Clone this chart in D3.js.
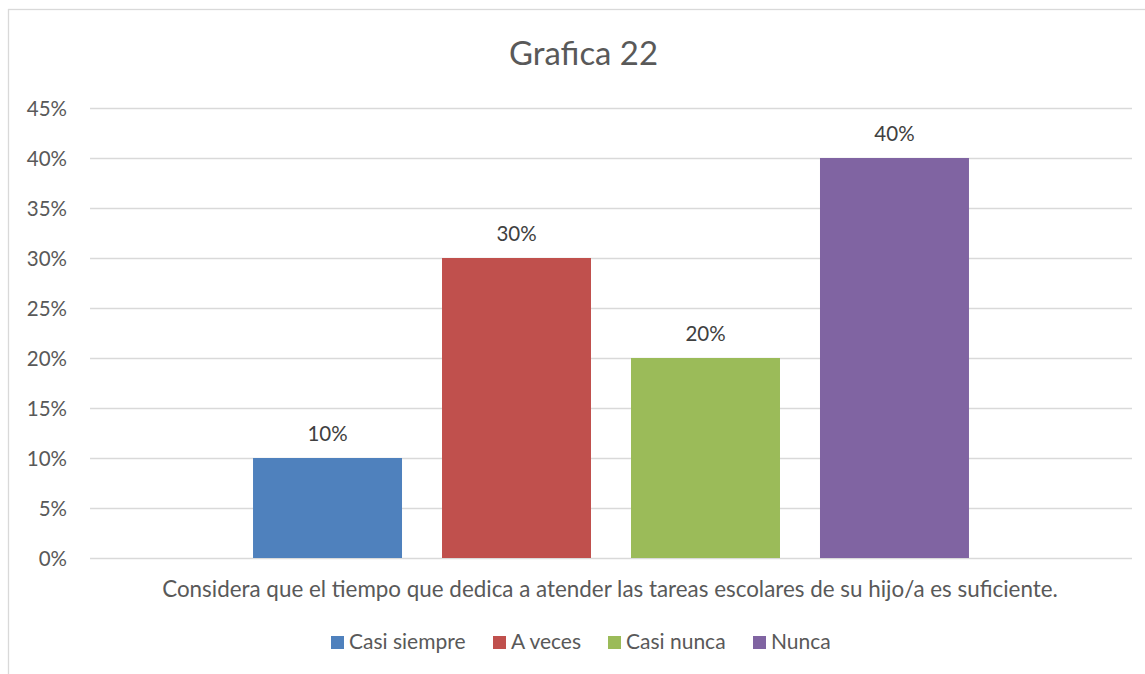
<!DOCTYPE html>
<html><head><meta charset="utf-8">
<script src="https://cdn.jsdelivr.net/npm/d3@7"></script>
<style>html,body{margin:0;padding:0;background:#fff;}svg{display:block;font-family:Lato,"Open Sans",sans-serif;}</style>
</head><body>
<svg id="c" width="1145" height="674"></svg>
<script>
const title = "Grafica 22";
const categories = ["Considera que el tiempo que dedica a atender las tareas escolares de su hijo/a es suficiente."];
const series = ["Casi siempre", "A veces", "Casi nunca", "Nunca"];
const values = [0.10, 0.30, 0.20, 0.40];
const colors = ["#4F81BD", "#C0504D", "#9BBB59", "#8064A2"];
const yTicks = [0, 0.05, 0.10, 0.15, 0.20, 0.25, 0.30, 0.35, 0.40, 0.45];

const svg = d3.select("#c");
const L = 90, R = 1132, T = 108, B = 558;

function fit(sel, target, s0) {
  sel.style("font-size", s0 + "px");
  const w = sel.node().getComputedTextLength();
  sel.style("font-size", (s0 * target / w) + "px");
}

svg.append("rect").attr("x", 8.5).attr("y", 9.5).attr("width", 1300).attr("height", 800)
  .attr("fill", "#fff").attr("stroke", "#D9D9D9").attr("stroke-width", 1.3);

const y = d3.scaleLinear().domain([0, 0.45]).range([B, T]);
const x0 = d3.scaleBand().domain(categories).range([L, R]).paddingInner(0).paddingOuter(0.2277);
const x1 = d3.scaleBand().domain(series).range([0, x0.bandwidth()]).paddingInner(40/189).paddingOuter(0);

// grid
svg.append("g").selectAll("line").data(yTicks).join("line")
  .attr("x1", L).attr("x2", R).attr("y1", d => Math.round(y(d)) + 0.5).attr("y2", d => Math.round(y(d)) + 0.5)
  .attr("stroke", "#D9D9D9").attr("stroke-width", 1.5);

// y axis
const yAxis = svg.append("g").attr("transform", `translate(${L},0)`)
  .call(d3.axisLeft(y).tickValues(yTicks).tickFormat(d3.format(".0%")).tickSize(0).tickPadding(23));
yAxis.select(".domain").remove();
yAxis.attr("font-size", null).attr("font-family", null);
yAxis.selectAll("text").attr("fill", "#595959").attr("dy", "0.36em").style("font-size", "20.5px");

// bars
const g = svg.append("g");
const cat = categories[0];
g.selectAll("rect").data(series).join("rect")
  .attr("x", s => x0(cat) + x1(s)).attr("width", x1.bandwidth())
  .attr("y", (s, i) => y(values[i])).attr("height", (s, i) => y(0) - y(values[i]))
  .attr("fill", (s, i) => colors[i]);

// data labels
g.selectAll("text").data(series).join("text")
  .attr("x", s => x0(cat) + x1(s) + x1.bandwidth() / 2)
  .attr("y", (s, i) => y(values[i]) - 17)
  .attr("text-anchor", "middle").attr("fill", "#404040").style("font-size", "20.5px")
  .text((s, i) => d3.format(".0%")(values[i]));

// title
const tt = svg.append("text").attr("x", 583.5).attr("y", 65).attr("text-anchor", "middle")
  .attr("fill", "#595959").text(title);
fit(tt, 149, 30);

// category axis label
const ct = svg.append("text").attr("x", 610).attr("y", 597).attr("text-anchor", "middle")
  .attr("fill", "#595959").text(cat);
fit(ct, 896, 20);

// legend
const lg = svg.append("g");
const lx = [331, 493, 608, 753];
series.forEach((s, i) => {
  lg.append("rect").attr("x", lx[i]).attr("y", 636).attr("width", 13).attr("height", 13).attr("fill", colors[i]);
  lg.append("text").attr("x", lx[i] + 18).attr("y", 649).attr("fill", "#595959").style("font-size", "21px").text(s);
});
</script>
</body></html>
